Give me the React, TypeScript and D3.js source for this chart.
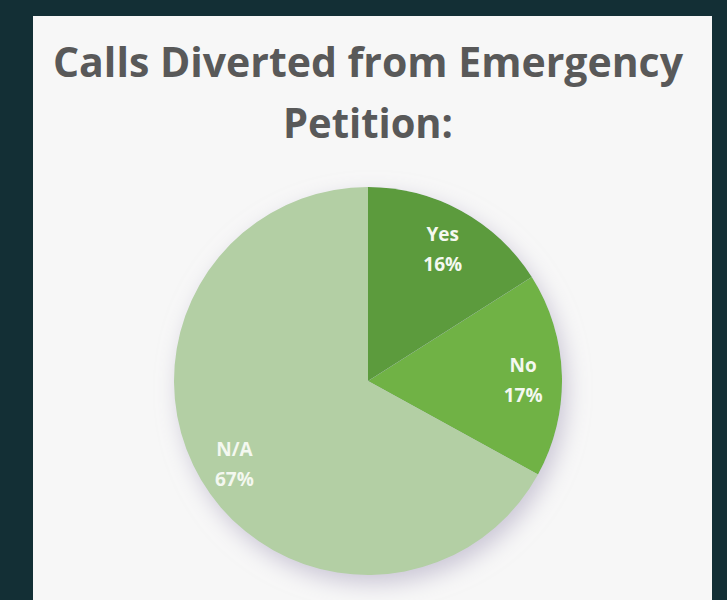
import React from "react";
import * as d3 from "d3";

const titleLines = ["Calls Diverted from Emergency", "Petition:"];
const categories = ["Yes", "No", "N/A"];
const values = [16, 17, 67];
const sliceColors = ["#5b9b3c", "#6fb245", "#b3cfa4"];

const W = 727;
const H = 600;

export default function App() {
  const cx = 368;
  const cy = 381;
  const r = 194;
  const data = categories.map((c, i) => ({ cat: c, value: values[i], color: sliceColors[i] }));
  const pie = d3
    .pie<{ cat: string; value: number; color: string }>()
    .sort(null)
    .value((d) => d.value);
  const arcs = pie(data);
  const arc = d3.arc<any>().innerRadius(0).outerRadius(r);
  const labelArc = d3.arc<any>().innerRadius(r * 0.8).outerRadius(r * 0.8);

  return (
    <svg
      width={W}
      height={H}
      style={{ position: "absolute", left: 0, top: 0, display: "block" }}
    >
      <defs>
        <filter id="shadow" x="-30%" y="-30%" width="160%" height="160%">
          <feDropShadow dx="5" dy="9" stdDeviation="11" floodColor="#bdb8cc" floodOpacity="0.75" />
        </filter>
      </defs>
      <rect x={0} y={0} width={W} height={H} fill="#132f35" />
      <rect x={33} y={16} width={679} height={584} fill="#f7f7f7" />
      <text
        x={368}
        y={77}
        textAnchor="middle"
        fontFamily="'Open Sans', sans-serif"
        fontWeight={700}
        fontSize={41}
        fill="#595959"
        textLength={630}
        lengthAdjust="spacingAndGlyphs"
      >
        {titleLines[0]}
      </text>
      <text
        x={368}
        y={138}
        textAnchor="middle"
        fontFamily="'Open Sans', sans-serif"
        fontWeight={700}
        fontSize={41}
        fill="#595959"
        textLength={170}
        lengthAdjust="spacingAndGlyphs"
      >
        {titleLines[1]}
      </text>
      <g transform={`translate(${cx},${cy})`}>
        <g filter="url(#shadow)">
          {arcs.map((a, i) => (
            <path key={i} d={arc(a) as string} fill={a.data.color} />
          ))}
        </g>
        {arcs.map((a, i) => {
          const [lx, ly] = labelArc.centroid(a);
          return (
            <text
              key={"l" + i}
              x={lx}
              y={ly}
              textAnchor="middle"
              fontFamily="'Open Sans', sans-serif"
              fontWeight={700}
              fontSize={19}
              fill="#f4f8f0"
            >
              <tspan x={lx} dy={-4}>{a.data.cat}</tspan>
              <tspan x={lx} dy={30}>{a.data.value + "%"}</tspan>
            </text>
          );
        })}
      </g>
    </svg>
  );
}
